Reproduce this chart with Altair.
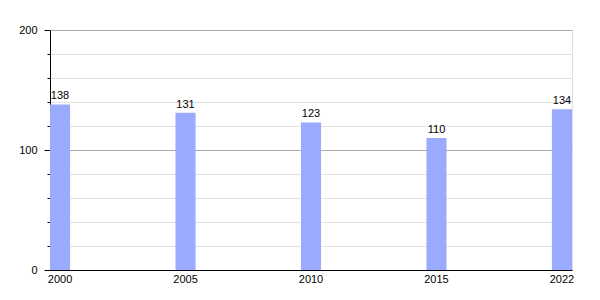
import altair as alt
import pandas as pd

years = ["2000", "2005", "2010", "2015", "2022"]
values = [138, 131, 123, 110, 134]

df = pd.DataFrame({"year": years, "value": values})

font = "Liberation Sans"

base = alt.Chart(df).encode(
    x=alt.X("year:N", sort=years,
            scale=alt.Scale(paddingInner=0.84, paddingOuter=0),
            axis=alt.Axis(title=None, labelAngle=0, ticks=False, domainColor="black",
                          labelColor="black", labelFontSize=11, labelFont=font,
                          labelPadding=3, grid=False)),
    y=alt.Y("value:Q",
            scale=alt.Scale(domain=[0, 200], nice=False),
            axis=alt.Axis(title=None, values=list(range(0, 201, 20)),
                          labelExpr="datum.value % 100 === 0 ? datum.label : ''",
                          domainColor="black", tickColor="black",
                          tickSize={"condition": {"test": "datum.value % 100 === 0", "value": 6}, "value": 3},
                          gridColor={"condition": {"test": "datum.value % 100 === 0", "value": "#aaaaaa"}, "value": "#e2e2e2"},
                          labelColor="black", labelFontSize=11, labelFont=font,
                          labelPadding=7)),
)

bars = base.mark_bar(color="#99aaff")
labels = base.mark_text(baseline="bottom", dy=-3, fontSize=11, font=font, color="black").encode(
    text="value:Q")

chart = (bars + labels).properties(
    width=522, height=240,
    autosize=alt.AutoSizeParams(type="none"),
    padding={"left": 50, "top": 30, "right": 28, "bottom": 30},
).configure_view(stroke=None).configure(background="white")

chart.save("out.html", embed_options={"renderer": "svg", "actions": False})
